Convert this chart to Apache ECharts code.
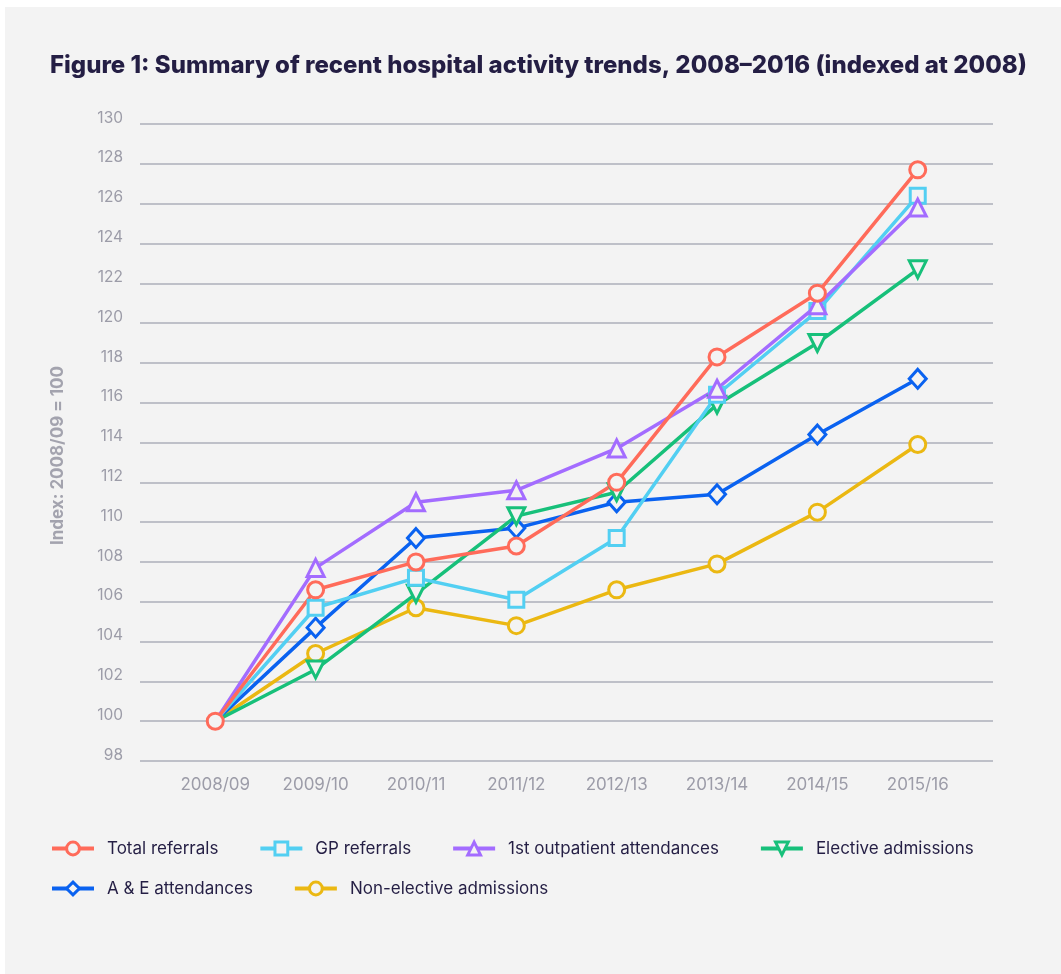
<!DOCTYPE html>
<html>
<head>
<meta charset="utf-8">
<script src="https://cdn.jsdelivr.net/npm/echarts@6/dist/echarts.min.js"></script>
<style>
  html, body { margin: 0; padding: 0; background: #ffffff; }
  #main { position: absolute; left: 5px; top: 7px; width: 1056px; height: 967px; background: #f3f3f3; }
</style>
</head>
<body>
<div id="main"></div>
<script>
// categories (financial years)
var years = ['2008/09', '2009/10', '2010/11', '2011/12', '2012/13', '2013/14', '2014/15', '2015/16'];

// index values, 2008/09 = 100
var totalReferrals = [100, 106.6, 108.0, 108.8, 112.0, 118.3, 121.5, 127.7];
var gpReferrals = [100, 105.7, 107.2, 106.1, 109.2, 116.4, 120.6, 126.4];
var outpatient = [100, 107.7, 111.0, 111.6, 113.7, 116.7, 120.9, 125.8];
var elective = [100, 102.6, 106.4, 110.3, 111.5, 115.9, 119.0, 122.7];
var aeAttendances = [100, 104.7, 109.2, 109.7, 111.0, 111.4, 114.4, 117.2];
var nonElective = [100, 103.4, 105.7, 104.8, 106.6, 107.9, 110.5, 113.9];

var yTicks = [98, 100, 102, 104, 106, 108, 110, 112, 114, 116, 118, 120, 122, 124, 126, 128, 130];

var bg = '#f3f3f3';
var textDark = '#241e44';
var grey = '#9c9ca8';

// first point is shared by all series, only the top one shows its marker there
function pairs(values, hideFirst) {
  return values.map(function (v, i) {
    if (i === 0 && hideFirst) return { value: [i, v], symbol: 'none' };
    return [i, v];
  });
}

function makeSeries(name, values, color, symbol, extra, hideFirst) {
  var s = {
    name: name,
    type: 'line',
    data: pairs(values, hideFirst),
    symbol: symbol,
    symbolSize: 16,
    lineStyle: { color: color, width: 3.5 },
    itemStyle: { color: bg, borderColor: color, borderWidth: 3 },
    emphasis: { disabled: true },
    animation: false
  };
  for (var k in extra) s[k] = extra[k];
  return s;
}

var chart = echarts.init(document.getElementById('main'));

var legendText = { color: textDark, fontSize: 17, fontFamily: 'Inter', padding: [0, 0, 0, 8] };

chart.setOption({
  backgroundColor: bg,
  textStyle: { fontFamily: 'Inter' },
  title: {
    text: 'Figure 1: Summary of recent hospital activity trends, 2008\u20132016 (indexed at 2008)',
    left: 45,
    top: 47,
    padding: 0,
    textStyle: { color: textDark, fontSize: 24, fontWeight: 800, fontFamily: 'Inter' }
  },
  legend: [
    {
      data: ['Total referrals', 'GP referrals', '1st outpatient attendances', 'Elective admissions'],
      left: 45, top: 833, padding: 0,
      itemWidth: 42, itemHeight: 16, itemGap: 40,
      lineStyle: { width: 4 },
      itemStyle: { borderWidth: 3 },
      textStyle: legendText
    },
    {
      data: ['A & E attendances', 'Non-elective admissions'],
      left: 45, top: 873, padding: 0,
      itemWidth: 42, itemHeight: 16, itemGap: 40,
      lineStyle: { width: 4 },
      itemStyle: { borderWidth: 3 },
      textStyle: legendText
    }
  ],
  grid: { left: 135, right: 68, top: 117, bottom: 213 },
  xAxis: {
    type: 'value',
    min: -0.75,
    max: 7.75,
    axisLine: { show: false },
    axisTick: { show: false },
    splitLine: { show: false },
    axisLabel: {
      customValues: years.map(function (y, i) { return i; }),
      formatter: function (v) { return years[Math.round(v)]; },
      color: grey,
      fontSize: 17,
      margin: 15
    }
  },
  yAxis: {
    type: 'value',
    min: yTicks[0],
    max: yTicks[yTicks.length - 1],
    interval: 2,
    name: 'Index: 2008/09 = 100',
    nameLocation: 'middle',
    nameGap: 74,
    nameTextStyle: { color: '#a3a3ae', fontSize: 17, fontWeight: 'bold', padding: [0, 26, 0, 0] },
    axisLine: { show: false },
    axisTick: { show: false },
    axisLabel: { color: grey, fontSize: 15.5, margin: 17, verticalAlign: 'bottom', lineHeight: 12 },
    splitLine: { lineStyle: { color: '#adafba', width: 1.5 } }
  },
  series: [
    makeSeries('Non-elective admissions', nonElective, '#ebb812', 'circle', {}, true),
    makeSeries('A & E attendances', aeAttendances, '#0a62f0', 'diamond', { symbolSize: [17, 19] }, true),
    makeSeries('Elective admissions', elective, '#17c07a', 'triangle', { symbolRotate: 180, symbolSize: 17 }, true),
    makeSeries('GP referrals', gpReferrals, '#52cff2', 'rect', { symbolSize: 15 }, true),
    makeSeries('1st outpatient attendances', outpatient, '#a36cff', 'triangle', { symbolSize: 17 }, true),
    makeSeries('Total referrals', totalReferrals, '#ff6b5a', 'circle', {}, false)
  ]
});
</script>
</body>
</html>
